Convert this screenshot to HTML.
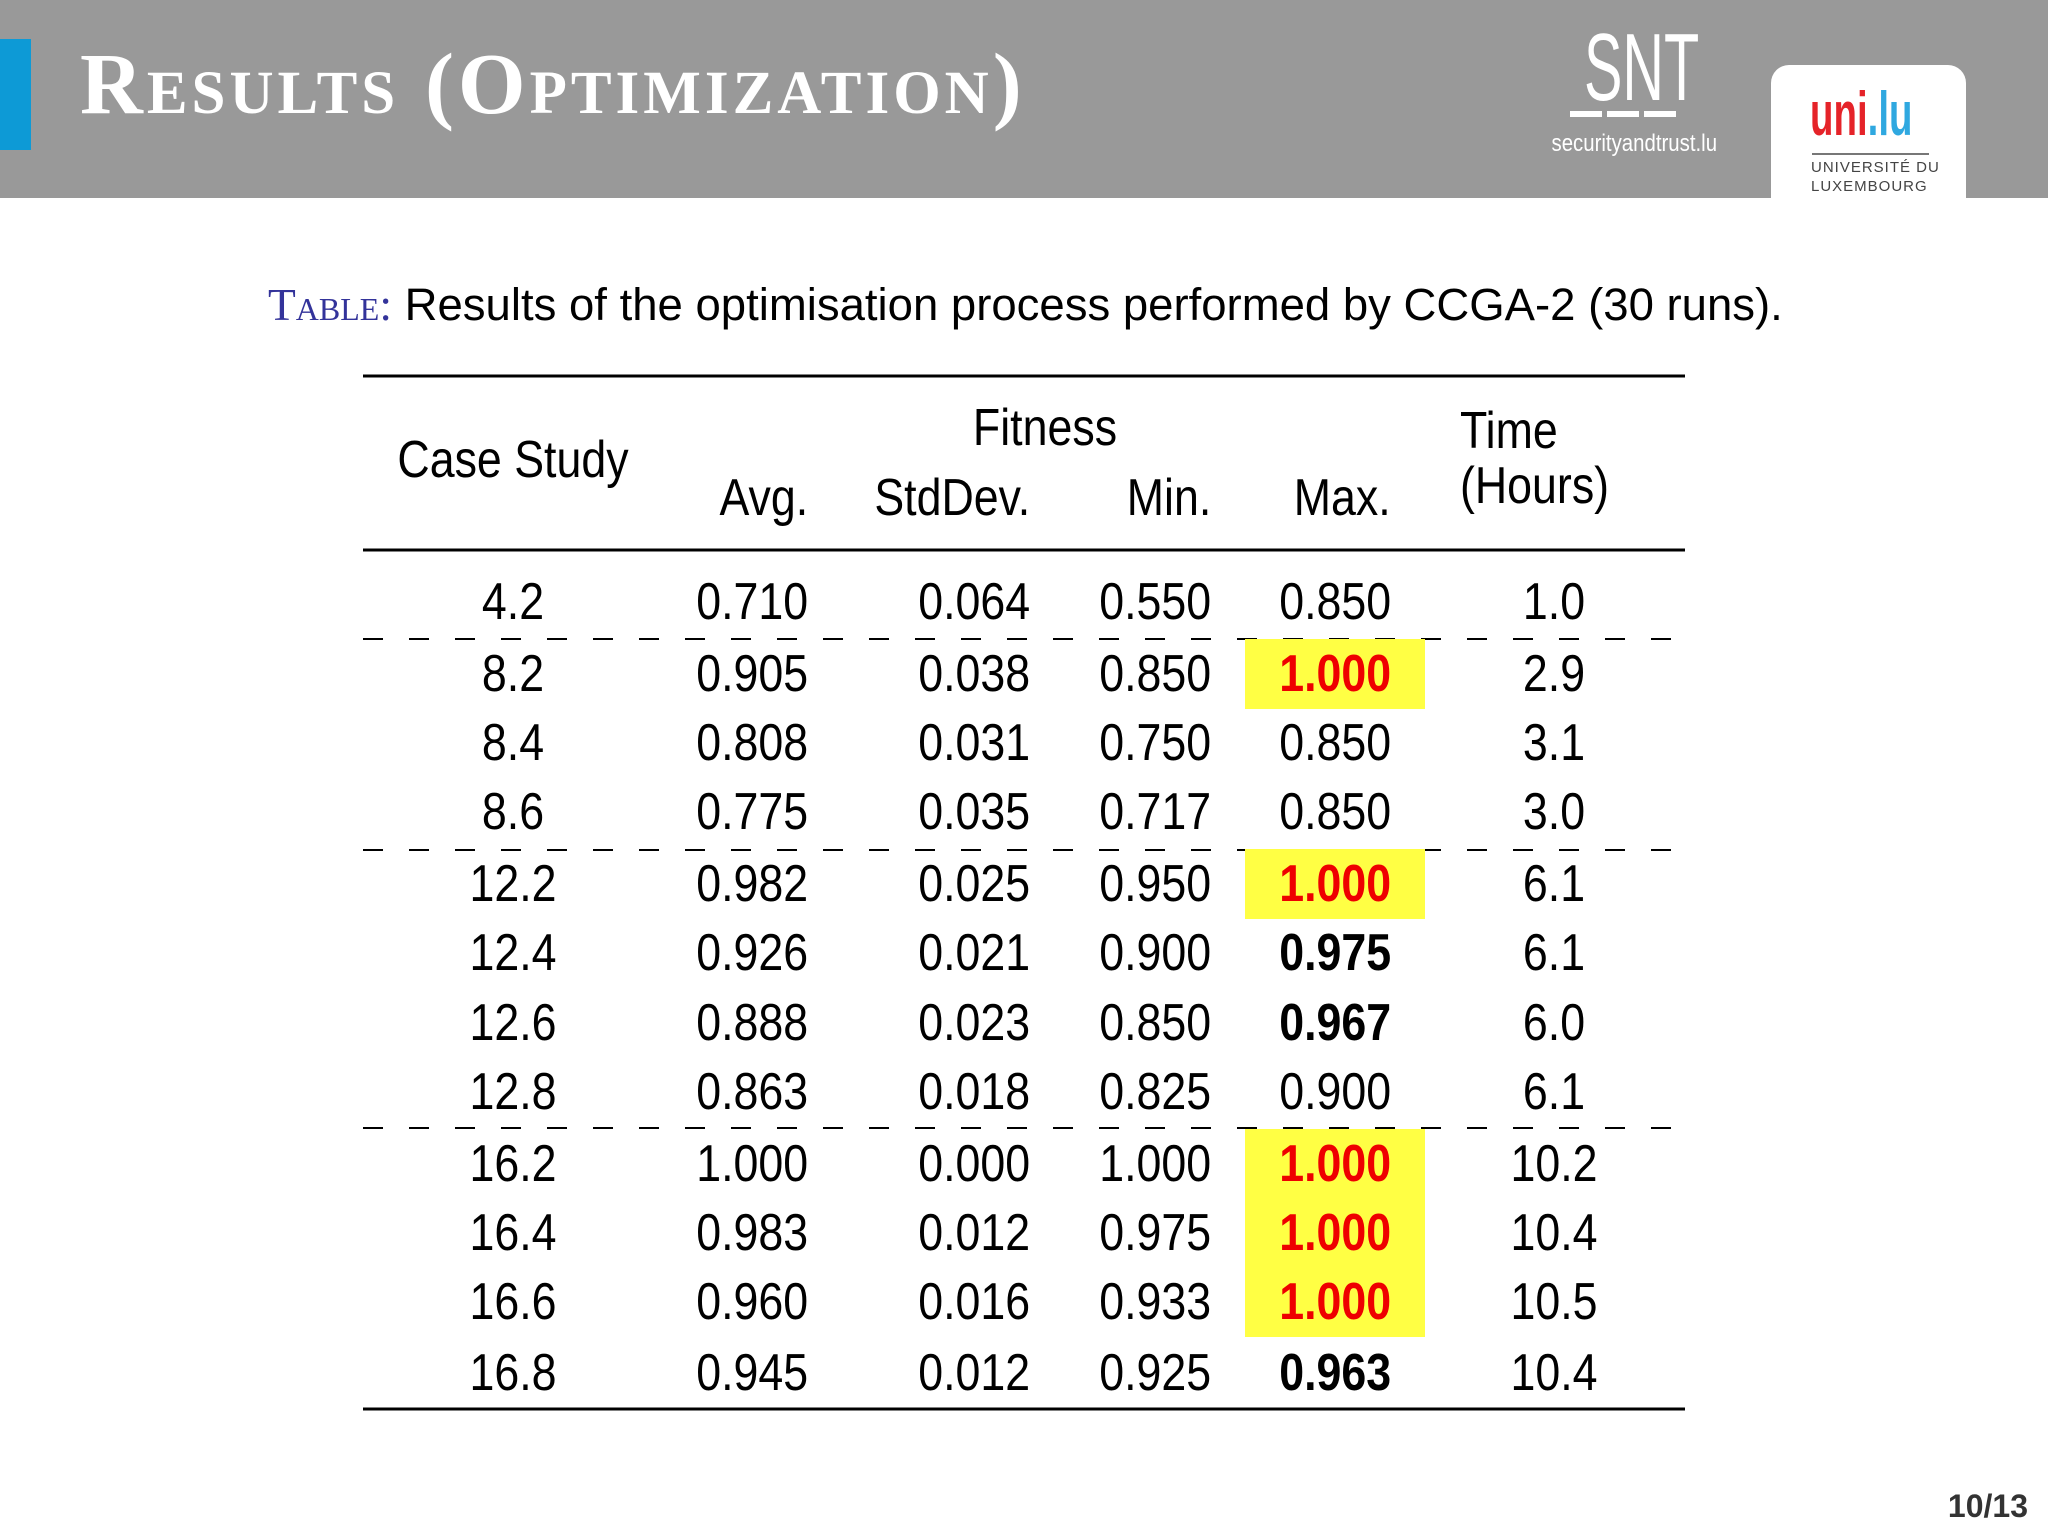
<!DOCTYPE html>
<html><head><meta charset="utf-8">
<style>
body{margin:0;width:2048px;height:1536px;background:#fff;position:relative;overflow:hidden;font-family:"Liberation Sans",sans-serif;}
.abs{position:absolute;}
.c{position:absolute;font-size:52px;line-height:52px;white-space:nowrap;color:#000;}
.r{transform:scaleX(0.86);transform-origin:right center;}
.l{transform:scaleX(0.86);transform-origin:left center;}
.m{transform:translateX(-50%) scaleX(0.86);}
</style></head><body>
<div class="abs" style="left:0;top:0;width:2048px;height:198px;background:#999;"></div>
<div class="abs" style="left:0;top:39px;width:31px;height:111px;background:#0d9ad6;"></div>
<div class="abs" style="left:80px;top:36px;color:#fff;font-family:'Liberation Serif',serif;font-weight:bold;font-size:87px;line-height:96px;font-variant:small-caps;letter-spacing:4px;white-space:nowrap;">Results (Optimization)</div>
<div class="abs" style="left:1560px;top:20px;width:120px;text-align:center;color:#fff;font-size:96px;line-height:96px;transform:scaleX(0.6);">SNT</div>
<div class="abs" style="left:1570px;top:111px;width:106px;height:6px;background:linear-gradient(90deg,#fff 0 30%,transparent 30% 35%,#fff 35% 65%,transparent 65% 70%,#fff 70%);"></div>
<div class="abs" style="left:1538px;top:130px;width:180px;text-align:center;color:#fff;font-size:24px;transform:scaleX(0.85);">securityandtrust.lu</div>
<div class="abs" style="left:1771px;top:65px;width:195px;height:133px;background:#fff;border-radius:18px 18px 0 0;"></div>
<div class="abs" style="left:1810px;top:84px;font-size:62px;font-weight:bold;line-height:62px;transform:scaleX(0.62);transform-origin:left;white-space:nowrap;"><span style="color:#e52329">uni</span><span style="color:#2fa8e0">.lu</span></div>
<div class="abs" style="left:1812px;top:153px;width:117px;height:2px;background:#777;"></div>
<div class="abs" style="left:1811px;top:158px;font-size:15px;line-height:19px;color:#444;letter-spacing:1px;">UNIVERSITÉ DU<br>LUXEMBOURG</div>

<div class="abs" style="left:268px;top:279px;font-size:45.5px;line-height:52px;white-space:nowrap;"><span style="color:#33339a;font-family:'Liberation Serif',serif;font-variant:small-caps;">Table:</span> Results of the optimisation process performed by CCGA-2 (30 runs).</div>

<svg class="abs" style="left:0;top:0" width="2048" height="1536">
<line x1="363" y1="376" x2="1685" y2="376" stroke="#000" stroke-width="3"/>
<line x1="363" y1="550" x2="1685" y2="550" stroke="#000" stroke-width="3"/>
<line x1="363" y1="1409" x2="1685" y2="1409" stroke="#000" stroke-width="3"/>
<line x1="363" y1="639" x2="1685" y2="639" stroke="#000" stroke-width="2" stroke-dasharray="20 26"/>
<line x1="363" y1="850" x2="1685" y2="850" stroke="#000" stroke-width="2" stroke-dasharray="20 26"/>
<line x1="363" y1="1128" x2="1685" y2="1128" stroke="#000" stroke-width="2" stroke-dasharray="20 26"/>
</svg>

<div class="c m" style="left:513px;top:434px;">Case Study</div>
<div class="c m" style="left:1045px;top:402px;">Fitness</div>
<div class="c r" style="right:1240px;top:472px;">Avg.</div>
<div class="c r" style="right:1018px;top:472px;">StdDev.</div>
<div class="c r" style="right:837px;top:472px;">Min.</div>
<div class="c r" style="right:657px;top:472px;">Max.</div>
<div class="c l" style="left:1460px;top:405px;">Time</div>
<div class="c l" style="left:1460px;top:460px;">(Hours)</div>

<div class="abs" style="right:20px;top:1488px;font-size:32px;font-weight:bold;color:#333;">10/13</div>

<div id="rows"></div>
<script>
const caseStudies=["4.2","8.2","8.4","8.6","12.2","12.4","12.6","12.8","16.2","16.4","16.6","16.8"];
const avgVals=["0.710","0.905","0.808","0.775","0.982","0.926","0.888","0.863","1.000","0.983","0.960","0.945"];
const stdVals=["0.064","0.038","0.031","0.035","0.025","0.021","0.023","0.018","0.000","0.012","0.016","0.012"];
const minVals=["0.550","0.850","0.750","0.717","0.950","0.900","0.850","0.825","1.000","0.975","0.933","0.925"];
const maxVals=["0.850","1.000","0.850","0.850","1.000","0.975","0.967","0.900","1.000","1.000","1.000","0.963"];
const maxStyle=["n","h","n","n","h","b","b","n","h","h","h","b"];
const timeVals=["1.0","2.9","3.1","3.0","6.1","6.1","6.0","6.1","10.2","10.4","10.5","10.4"];
const rowY=[602,674,743,812,884,953,1023,1092,1164,1233,1302,1373];
const root=document.getElementById('rows');
function cell(txt,y,pos,name){
  const d=document.createElement('div');
  d.className='c';d.textContent=txt;
  
  
  d.style.top=(y-26)+'px';
  if(pos.center!==undefined){d.style.left=pos.center+'px';d.classList.add('m');}
  else {d.style.right=(2048-pos.right)+'px';d.classList.add('r');}
  root.appendChild(d);return d;
}
for(let i=0;i<caseStudies.length;i++){
  const y=rowY[i];
  if(maxStyle[i]==='h'){
    const h=document.createElement('div');
    h.className='abs';
    
    
    h.style.cssText='left:1245px;width:180px;background:#ffff44;top:'+(y-35)+'px;height:70px;';
    root.appendChild(h);
  }
  cell(caseStudies[i],y,{center:513},'case-study-cell');
  cell(avgVals[i],y,{right:808},'avg-cell');
  cell(stdVals[i],y,{right:1030},'stddev-cell');
  cell(minVals[i],y,{right:1211},'min-cell');
  const m=cell(maxVals[i],y,{right:1391},'max-cell');
  if(maxStyle[i]!=='n')m.style.fontWeight='bold';
  if(maxStyle[i]==='h')m.style.color='#ee0000';
  cell(timeVals[i],y,{center:1554},'time-cell');
}
</script>
</body></html>
